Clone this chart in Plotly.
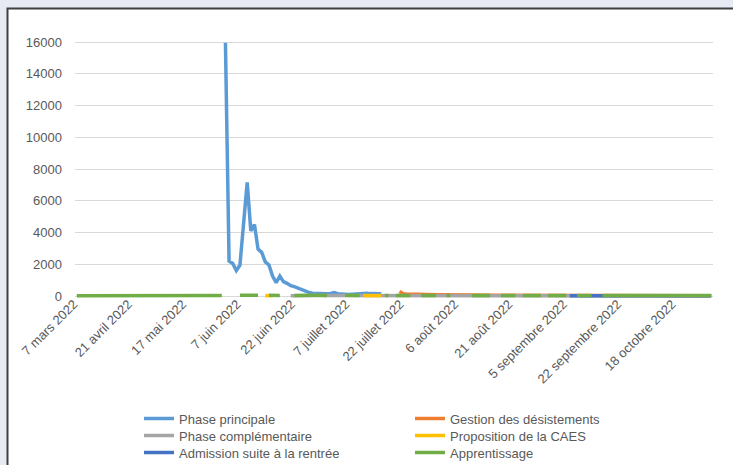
import plotly.graph_objects as go

# Category axis: one slot per observed day; labels are shown every 15 slots (as in the source chart)
n_slots = 176
tick_labels = [
    "7 mars 2022", "21 avril 2022", "17 mai 2022", "7 juin 2022", "22 juin 2022",
    "7 juillet 2022", "22 juillet 2022", "6 août 2022", "21 août 2022",
    "5 septembre 2022", "22 septembre 2022", "18 octobre 2022",
]
tick_step = 15

# Phase principale (starts at slot 41)
pp_start = 41
phase_principale = [
    15950, 2200, 2050, 1600, 1950, 4500, 7150, 4100, 4500, 2950,
    2750, 2150, 1950, 1250, 850, 1250, 900, 800, 650, 590,
    490, 380, 280, 230, 170, 150, 140, 130, 140, 160,
    210, 140, 110, 100, 100, 110, 130, 160, 200, 170,
    150, 160, 150, 140,
]

# Gestion des désistements (starts at slot 89)
gd_start = 89
gestion_desistements = [
    280, 150, 120, 110, 100, 95, 95, 90, 90, 85,
    85, 80, 80, 75, 75, 70, 70, 70, 65, 65,
    60, 60, 60, 55, 55, 55, 55, 50, 50, 50,
    50, 50, 45, 45, 45, 45, 45, 40, 40, 40,
    40, 40, 40, 35, 35, 35, 35, 35, 35, 30,
    30, 30, 30, 30, 30, 30, 30, 25, 25, 25,
    25, 25, 25, 25, 25, 25, 25, 20, 20, 20,
    20, 20, 20, 20, 20, 20, 20, 20, 20, 20,
    20, 20, 20, 20, 20, 20, 20,
]

# Phase complémentaire (starts at slot 59)
pc_start = 59
phase_complementaire = [
    10, 20, 25, 30, 30, 30, 30, 25, 25, 25,
    25, 25, 25, 25, 20, 20, 20, 20, 20, 20,
    20, 20, 20, 20, 20, 20, 20, 20, 20, 20,
    20, 20, 20, 15, 15, 15, 15, 15, 15, 15,
    15, 15, 15, 15, 15, 15, 15, 15, 15, 15,
    15, 15, 15, 15, 15, 15, 15, 15, 15, 15,
    15, 15, 15, 15, 15, 15, 15, 15, 15, 15,
    15, 15, 15, 15, 15, 15, 15, 15, 15, 15,
    10, 10, 10, 10, 10, 10, 10, 10, 10, 10,
    10, 10, 10, 10, 10, 10, 10, 10, 10, 10,
    10, 10, 10, 10, 10, 10, 10, 10, 10, 10,
    10, 10, 10, 10, 10, 10, 10,
]

# Proposition de la CAES (starts at slot 52, blanks where no value)
caes_start = 52
proposition_caes = [
    20, 25, 20, None, None, None, None, None, None, None,
    None, None, None, None, None, None, None, None, None, None,
    None, None, None, None, None, None, None, 25, 30, 30,
    30, 25, 25,
]

# Admission suite à la rentrée (starts at slot 136)
asr_start = 136
admission_rentree = [
    15, 15, 10, 10, 10, 10, 10, 10, 10, 10,
    10, 10, 10, 10, 10, 10, 10, 10, 10, 10,
    10, 10, 10, 10, 10, 10, 10, 10, 10, 10,
    10, 10, 10, 10, 10, 10, 10, 10, 10, 10,
]

# Apprentissage (whole period, blanks on days without data)
apprentissage = [
    15, 15, 15, 15, 15, 15, 15, 15, 15, 15,
    15, 15, 15, 15, 15, 15, 15, 20, 20, 20,
    20, 20, 20, 20, 20, 25, 25, 25, 25, 30,
    30, 30, 30, 50, 70, 60, 40, 50, 40, 30,
    30, None, None, None, None, 40, 60, 60, 50, 40,
    40, None, None, 40, 50, 40, 30, None, None, None,
    30, 40, 50, 50, 40, 40, 40, 40, 30, 30,
    None, None, None, None, 40, 40, 35, 30, 30, None,
    None, None, None, None, None, 30, 30, None, 30, 30,
    30, 30, 30, None, None, 30, 30, 30, 30, 30,
    None, None, 30, 30, None, None, None, None, None, 30,
    30, 35, 35, 30, 30, None, None, 30, 35, 40,
    35, 30, None, 30, 35, 40, 40, 35, 30, None,
    30, 35, 40, 40, 35, 30, None, None, 30, 35,
    40, 35, 30, None, None, 30, 30, 35, 40, 40,
    35, 30, 30, 30, 35, 40, 40, 35, 30, 30,
    30, 30, 35, 35, 30, 30, 30, 30, 30, 30,
    30, 30, 30, 30, 30, 30,
]


def pad(start, values):
    full = [None] * n_slots
    full[start:start + len(values)] = values
    return full


slots = list(range(n_slots))
# (name, values, colour, legend row)
series = [
    ("Phase principale", pad(pp_start, phase_principale), "#5B9BD5", "legend"),
    ("Gestion des désistements", pad(gd_start, gestion_desistements), "#ED7D31", "legend"),
    ("Phase complémentaire", pad(pc_start, phase_complementaire), "#A5A5A5", "legend2"),
    ("Proposition de la CAES", pad(caes_start, proposition_caes), "#FFC000", "legend2"),
    ("Admission suite à la rentrée", pad(asr_start, admission_rentree), "#4472C4", "legend3"),
    ("Apprentissage", apprentissage, "#70AD47", "legend3"),
]

font_family = "Liberation Sans, Arial, sans-serif"
text_color = "#595959"

fig = go.Figure()
for name, values, color, leg in series:
    fig.add_trace(go.Scatter(
        x=slots, y=values, mode="lines", name=name,
        line=dict(color=color, width=3.5),
        connectgaps=False,
        legend=leg,
    ))

# value axis: 0 at y=296 px, 16000 at y=42 px; the plot area is padded by 3 px
# above and below so that thick lines at 0 / at the peak are not clipped
y_min, y_max = 0, 16000
pad_px = 3
units_per_px = (y_max - y_min) / (296 - 42)
L, R = 75, 20
T, B = 42 - pad_px, 465 - 296 - pad_px
pw, ph = 733 - L - R, 465 - T - B

def px_x(v):
    return (v - L) / pw

def px_y(v):
    return (T + ph - v) / ph

fig.add_shape(
    type="rect", xref="paper", yref="paper", layer="below",
    x0=px_x(7.5), x1=px_x(900), y0=px_y(600), y1=px_y(8.5),
    fillcolor="white", line=dict(color="#3F3F3F", width=2),
)

legend_style = dict(
    orientation="h",
    x=px_x(139), xanchor="left", yanchor="top",
    entrywidth=226, entrywidthmode="pixels",
    font=dict(family=font_family, size=13, color=text_color),
    bgcolor="rgba(0,0,0,0)",
)
row_centres = [419, 436, 453]

fig.update_layout(
    width=733, height=465,
    margin=dict(l=L, r=R, t=T, b=B, autoexpand=False),
    paper_bgcolor="#E7EAF3",
    plot_bgcolor="white",
    font=dict(family=font_family, size=13, color=text_color),
    showlegend=True,
    legend=dict(legend_style, y=px_y(row_centres[0] - 15.5)),
    legend2=dict(legend_style, y=px_y(row_centres[1] - 15.5)),
    legend3=dict(legend_style, y=px_y(row_centres[2] - 15.5)),
    xaxis=dict(
        range=[-0.5, n_slots - 0.5],
        tickmode="array",
        tickvals=slots[::tick_step],
        ticktext=tick_labels,
        tickangle=-45,
        showgrid=False,
        showline=False,
        zeroline=False,
        ticks="",
        ticklabelstandoff=-6,
        ticklabelshift=-3,
        tickfont=dict(size=13, color=text_color),
    ),
    yaxis=dict(
        range=[y_min - pad_px * units_per_px, y_max + pad_px * units_per_px],
        tickmode="linear", tick0=0, dtick=2000,
        tickformat="d",
        showgrid=True, gridcolor="#D9D9D9", gridwidth=1,
        zeroline=False,
        showline=False,
        ticks="",
        ticklabelstandoff=12,
        tickfont=dict(size=13, color=text_color),
    ),
)

fig.write_html(
    "out.html",
    config={"displayModeBar": False},
    post_script="document.body.style.margin='0px';"
                "document.body.style.overflow='hidden';"
                "document.documentElement.style.overflow='hidden';"
                "document.body.style.backgroundColor='#E7EAF3';",
)
